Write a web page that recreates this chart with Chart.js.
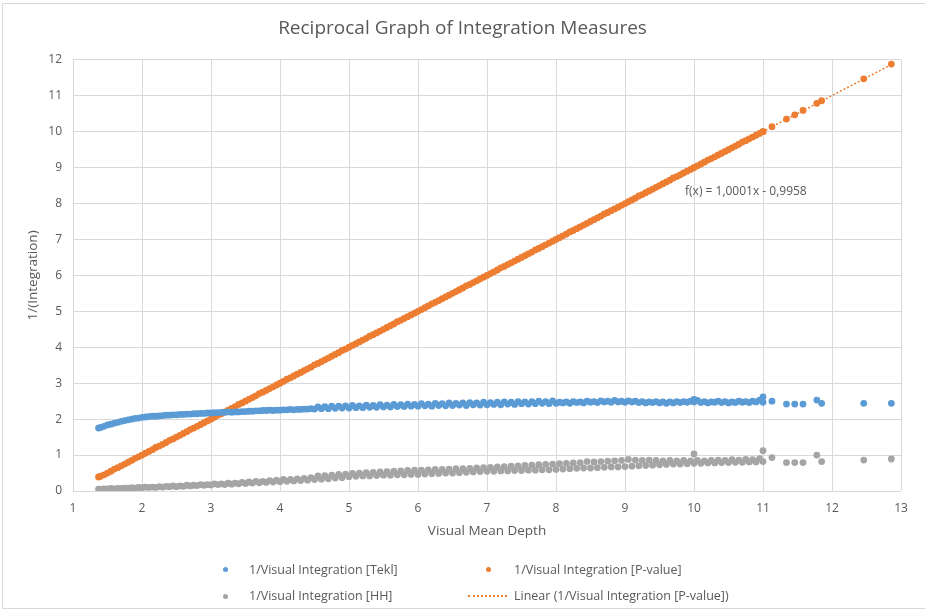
<!DOCTYPE html>
<html>
<head>
    <title>Reciprocal Graph of Integration Measures</title>
    <script src="https://cdn.jsdelivr.net/npm/chart.js"></script>
    <style>
        body {
            margin: 0;
            background: #fff;
            font-family: 'Open Sans', sans-serif;
        }
        #wrap {
            position: absolute;
            left: 0;
            top: 0;
            width: 925px;
            height: 613px;
        }
        #frame {
            position: absolute;
            left: 2px;
            top: 3px;
            width: 930px;
            height: 604px;
            border: 1px solid #d9d9d9;
        }
        .lg {
            position: absolute;
            font-size: 12.5px;
            line-height: 16px;
            color: #595959;
            white-space: nowrap;
        }
        .dot {
            position: absolute;
            width: 5px;
            height: 5px;
            border-radius: 50%;
        }
        .dash {
            position: absolute;
            width: 39px;
            height: 0;
            border-top: 2px dotted #ed7d31;
        }
    </style>
</head>
<body>
    <div id="frame"></div>
    <div id="wrap">
        <canvas id="myChart" width="925" height="613"></canvas>
    </div>
    <div class="dot" style="left:223px; top:567px; background:#5b9bd5;"></div>
    <div class="lg" style="left:249px; top:562px;">1/Visual Integration [Tekl]</div>
    <div class="dot" style="left:486px; top:567px; background:#ed7d31;"></div>
    <div class="lg" style="left:514px; top:562px;">1/Visual Integration [P-value]</div>
    <div class="dot" style="left:223px; top:594px; background:#a5a5a5;"></div>
    <div class="lg" style="left:249px; top:588px;">1/Visual Integration [HH]</div>
    <div class="dash" style="left:468px; top:595px;"></div>
    <div class="lg" style="left:514px; top:588px;">Linear (1/Visual Integration [P-value])</div>

    <script>
        // main rows: visual mean depth and the three reciprocal measures
        const depth = [1.37, 1.4, 1.5, 1.6, 1.7, 1.8, 1.9, 2.0, 2.1, 2.2, 2.3, 2.4, 2.5, 2.6, 2.7, 2.8, 2.9,
            3.0, 3.1, 3.2, 3.3, 3.4, 3.5, 3.6, 3.7, 3.8, 3.9, 4.0, 4.1, 4.2, 4.3, 4.4, 4.5, 4.6, 4.7, 4.8, 4.9,
            5.0, 5.1, 5.2, 5.3, 5.4, 5.5, 5.6, 5.7, 5.8, 5.9, 6.0, 6.1, 6.2, 6.3, 6.4, 6.5, 6.6, 6.7, 6.8, 6.9,
            7.0, 7.1, 7.2, 7.3, 7.4, 7.5, 7.6, 7.7, 7.8, 7.9, 8.0, 8.1, 8.2, 8.3, 8.4, 8.5, 8.6, 8.7, 8.8, 8.9,
            9.0, 9.1, 9.2, 9.3, 9.4, 9.5, 9.6, 9.7, 9.8, 9.9, 10.0, 10.1, 10.2, 10.3, 10.4, 10.5, 10.6, 10.7, 10.8, 10.9,
            11.0, 11.13, 11.34, 11.46, 11.58, 11.78, 11.85, 12.46, 12.86];
        const tekl = [1.75, 1.77, 1.84, 1.89, 1.94, 1.98, 2.02, 2.05, 2.07, 2.08, 2.10, 2.11, 2.12, 2.13, 2.14, 2.15, 2.16,
            2.17, 2.18, 2.19, 2.19, 2.20, 2.21, 2.22, 2.23, 2.24, 2.24, 2.25, 2.26, 2.26, 2.27, 2.28, 2.28, 2.29, 2.29, 2.30, 2.31,
            2.31, 2.32, 2.32, 2.33, 2.33, 2.34, 2.34, 2.35, 2.35, 2.36, 2.36, 2.37, 2.36, 2.38, 2.37, 2.38, 2.39, 2.38, 2.40, 2.39,
            2.40, 2.41, 2.40, 2.42, 2.41, 2.43, 2.42, 2.43, 2.44, 2.43, 2.44, 2.45, 2.44, 2.46, 2.45, 2.47, 2.46, 2.48, 2.47, 2.48,
            2.47, 2.48, 2.46, 2.45, 2.46, 2.45, 2.44, 2.45, 2.46, 2.47, 2.48, 2.46, 2.45, 2.47, 2.46, 2.45, 2.46, 2.47, 2.46, 2.48,
            2.47, 2.50, 2.42, 2.42, 2.42, 2.53, 2.44, 2.44, 2.44];
        const pValue = [0.39, 0.41, 0.50, 0.61, 0.70, 0.80, 0.91, 1.00, 1.10, 1.21, 1.30, 1.41, 1.50, 1.60, 1.71, 1.80, 1.90,
            2.00, 2.11, 2.20, 2.30, 2.41, 2.50, 2.60, 2.71, 2.80, 2.90, 3.00, 3.11, 3.20, 3.30, 3.40, 3.51, 3.60, 3.70, 3.80, 3.91,
            4.00, 4.10, 4.20, 4.31, 4.40, 4.50, 4.60, 4.71, 4.80, 4.90, 5.00, 5.10, 5.21, 5.30, 5.40, 5.50, 5.60, 5.71, 5.80, 5.90,
            6.00, 6.10, 6.21, 6.30, 6.40, 6.50, 6.60, 6.71, 6.80, 6.90, 7.00, 7.10, 7.21, 7.30, 7.40, 7.50, 7.60, 7.71, 7.80, 7.90,
            8.00, 8.10, 8.21, 8.30, 8.40, 8.50, 8.60, 8.71, 8.80, 8.90, 9.00, 9.10, 9.21, 9.30, 9.40, 9.50, 9.60, 9.71, 9.80, 9.90,
            10.00, 10.14, 10.35, 10.47, 10.59, 10.79, 10.86, 11.47, 11.88];
        const hh = [0.05, 0.05, 0.06, 0.06, 0.07, 0.08, 0.08, 0.09, 0.10, 0.10, 0.11, 0.12, 0.12, 0.13, 0.14, 0.15, 0.16,
            0.17, 0.18, 0.18, 0.19, 0.20, 0.21, 0.22, 0.23, 0.24, 0.25, 0.26, 0.27, 0.28, 0.29, 0.30, 0.32, 0.33, 0.34, 0.36, 0.37,
            0.40, 0.41, 0.42, 0.42, 0.43, 0.44, 0.44, 0.45, 0.45, 0.46, 0.46, 0.47, 0.48, 0.49, 0.50, 0.50, 0.51, 0.52, 0.53, 0.54,
            0.55, 0.55, 0.56, 0.56, 0.57, 0.57, 0.58, 0.58, 0.59, 0.59, 0.60, 0.61, 0.62, 0.63, 0.64, 0.64, 0.65, 0.66, 0.67, 0.67,
            0.68, 0.69, 0.70, 0.71, 0.72, 0.73, 0.74, 0.75, 0.75, 0.76, 0.77, 0.77, 0.78, 0.78, 0.79, 0.79, 0.80, 0.80, 0.81, 0.81,
            0.82, 0.93, 0.79, 0.79, 0.79, 1.00, 0.82, 0.86, 0.89];

        // second batch of rows in between (spread of the bands)
        const depthB = [1.45, 1.55, 1.65, 1.75, 1.85, 1.95, 2.05, 2.15, 2.25, 2.35, 2.45, 2.55, 2.65, 2.75, 2.85, 2.95,
            3.05, 3.15, 3.25, 3.35, 3.45, 3.55, 3.65, 3.75, 3.85, 3.95, 4.05, 4.15, 4.25, 4.35, 4.45, 4.55, 4.65, 4.75, 4.85, 4.95,
            5.05, 5.15, 5.25, 5.35, 5.45, 5.55, 5.65, 5.75, 5.85, 5.95, 6.05, 6.15, 6.25, 6.35, 6.45, 6.55, 6.65, 6.75, 6.85, 6.95,
            7.05, 7.15, 7.25, 7.35, 7.45, 7.55, 7.65, 7.75, 7.85, 7.95, 8.05, 8.15, 8.25, 8.35, 8.45, 8.55, 8.65, 8.75, 8.85, 8.95,
            9.05, 9.15, 9.25, 9.35, 9.45, 9.55, 9.65, 9.75, 9.85, 9.95, 10.05, 10.15, 10.25, 10.35, 10.45, 10.55, 10.65, 10.75, 10.85, 10.95,
            10.0, 11.0];
        const teklB = [1.80, 1.86, 1.91, 1.96, 2.00, 2.03, 2.06, 2.08, 2.09, 2.11, 2.12, 2.13, 2.14, 2.15, 2.16, 2.17,
            2.18, 2.19, 2.20, 2.20, 2.21, 2.22, 2.23, 2.24, 2.25, 2.25, 2.26, 2.27, 2.27, 2.28, 2.29, 2.34, 2.35, 2.36, 2.36, 2.37,
            2.38, 2.37, 2.39, 2.38, 2.40, 2.39, 2.41, 2.40, 2.42, 2.41, 2.43, 2.42, 2.44, 2.43, 2.45, 2.44, 2.45, 2.46, 2.45, 2.47,
            2.46, 2.47, 2.48, 2.47, 2.49, 2.48, 2.49, 2.50, 2.49, 2.51, 2.47, 2.48, 2.49, 2.48, 2.50, 2.49, 2.51, 2.50, 2.52, 2.50,
            2.51, 2.50, 2.49, 2.48, 2.49, 2.48, 2.48, 2.49, 2.49, 2.50, 2.52, 2.49, 2.48, 2.50, 2.49, 2.48, 2.50, 2.49, 2.50, 2.53,
            2.55, 2.62];
        const pValueB = [0.45, 0.55, 0.65, 0.75, 0.85, 0.95, 1.05, 1.15, 1.25, 1.35, 1.45, 1.55, 1.65, 1.75, 1.85, 1.95,
            2.05, 2.15, 2.25, 2.35, 2.45, 2.55, 2.65, 2.75, 2.85, 2.95, 3.05, 3.15, 3.25, 3.35, 3.45, 3.55, 3.65, 3.75, 3.85, 3.95,
            4.05, 4.15, 4.25, 4.35, 4.45, 4.55, 4.65, 4.75, 4.85, 4.95, 5.05, 5.15, 5.25, 5.35, 5.45, 5.55, 5.65, 5.75, 5.85, 5.95,
            6.05, 6.15, 6.25, 6.35, 6.45, 6.55, 6.65, 6.75, 6.85, 6.95, 7.05, 7.15, 7.25, 7.35, 7.45, 7.55, 7.65, 7.75, 7.85, 7.95,
            8.05, 8.15, 8.25, 8.35, 8.45, 8.55, 8.65, 8.75, 8.85, 8.95, 9.05, 9.15, 9.25, 9.35, 9.45, 9.55, 9.65, 9.75, 9.85, 9.95,
            9.00, 10.00];
        const hhB = [0.06, 0.07, 0.07, 0.08, 0.09, 0.10, 0.11, 0.11, 0.12, 0.13, 0.14, 0.14, 0.16, 0.16, 0.18, 0.18,
            0.20, 0.20, 0.22, 0.22, 0.24, 0.25, 0.27, 0.27, 0.29, 0.30, 0.32, 0.32, 0.34, 0.35, 0.37, 0.42, 0.43, 0.44, 0.46, 0.47,
            0.49, 0.50, 0.51, 0.52, 0.53, 0.54, 0.55, 0.56, 0.57, 0.58, 0.58, 0.59, 0.60, 0.60, 0.61, 0.62, 0.62, 0.63, 0.64, 0.65,
            0.66, 0.67, 0.68, 0.69, 0.70, 0.71, 0.72, 0.73, 0.74, 0.75, 0.76, 0.77, 0.78, 0.79, 0.82, 0.81, 0.82, 0.83, 0.84, 0.85,
            0.88, 0.86, 0.85, 0.86, 0.85, 0.84, 0.85, 0.84, 0.85, 0.84, 0.85, 0.84, 0.85, 0.86, 0.85, 0.87, 0.86, 0.88, 0.87, 0.90,
            1.03, 1.12];

        // trendline as printed on the chart
        const trendSlope = 1.0001;
        const trendIntercept = -0.9958;
        const trendLabel = 'f(x) = 1,0001x - 0,9958';

        const xTicksMin = 1, xTicksMax = 13;
        const yTicksMin = 0, yTicksMax = 12;

        function pts(xs, ys) {
            return xs.map((x, i) => ({ x: x, y: ys[i] }));
        }

        const xFirst = depth[0];
        const xLast = depth[depth.length - 1];
        const trendPts = [
            { x: xFirst, y: trendSlope * xFirst + trendIntercept },
            { x: xLast, y: trendSlope * xLast + trendIntercept }
        ];

        const grey = '#595959';
        const font = 'Open Sans';

        const trendText = {
            id: 'trendText',
            afterDatasetsDraw(chart) {
                const { ctx, scales } = chart;
                ctx.save();
                ctx.font = '12px "Open Sans", sans-serif';
                ctx.fillStyle = grey;
                ctx.textBaseline = 'middle';
                ctx.fillText(trendLabel, scales.x.getPixelForValue(9.87), scales.y.getPixelForValue(8.33));
                ctx.restore();
            }
        };

        const dotStyle = (color) => ({
            backgroundColor: color,
            borderColor: color,
            borderWidth: 0,
            pointRadius: 3.4,
            pointHoverRadius: 3.4
        });

        new Chart(document.getElementById('myChart'), {
            type: 'scatter',
            data: {
                datasets: [
                    { label: '1/Visual Integration [HH]', data: pts(depth, hh), ...dotStyle('#a5a5a5') },
                    { label: '1/Visual Integration [HH]', data: pts(depthB, hhB), ...dotStyle('#a5a5a5') },
                    { label: '1/Visual Integration [Tekl]', data: pts(depth, tekl), ...dotStyle('#5b9bd5') },
                    { label: '1/Visual Integration [Tekl]', data: pts(depthB, teklB), ...dotStyle('#5b9bd5') },
                    { label: '1/Visual Integration [P-value]', data: pts(depth, pValue), ...dotStyle('#ed7d31') },
                    { label: '1/Visual Integration [P-value]', data: pts(depthB, pValueB), ...dotStyle('#ed7d31') },
                    {
                        label: 'Linear (1/Visual Integration [P-value])',
                        type: 'line',
                        data: trendPts,
                        borderColor: '#ed7d31',
                        borderWidth: 1.5,
                        borderDash: [2, 2],
                        pointRadius: 0,
                        fill: false
                    }
                ]
            },
            options: {
                responsive: false,
                animation: false,
                layout: { padding: 0 },
                plugins: {
                    legend: { display: false },
                    tooltip: { enabled: false },
                    title: {
                        display: true,
                        text: 'Reciprocal Graph of Integration Measures',
                        color: grey,
                        font: { family: font, size: 19, weight: 'normal' },
                        padding: { top: 17, bottom: 20 }
                    }
                },
                scales: {
                    x: {
                        type: 'linear',
                        min: xTicksMin,
                        max: xTicksMax,
                        ticks: { stepSize: 1, color: grey, font: { family: font, size: 12 }, padding: 10 },
                        grid: { color: '#d9d9d9', drawTicks: false },
                        border: { display: false },
                        title: {
                            display: true,
                            text: 'Visual Mean Depth',
                            color: grey,
                            font: { family: font, size: 13.5 },
                            padding: { top: 0, bottom: 74 }
                        },
                        afterFit: (s) => { s.height = 122; }
                    },
                    y: {
                        min: yTicksMin,
                        max: yTicksMax,
                        ticks: { stepSize: 1, color: grey, font: { family: font, size: 12 }, padding: 11 },
                        grid: { color: '#d9d9d9', drawTicks: false },
                        border: { display: false },
                        title: {
                            display: true,
                            text: '1/(Integration)',
                            color: grey,
                            font: { family: font, size: 13.5 },
                            padding: { top: 25, bottom: 0 }
                        },
                        afterFit: (s) => { s.width = 73; }
                    },
                    // empty strip on the right so the plot ends at 13 like the original
                    yRight: {
                        position: 'right',
                        display: true,
                        ticks: { display: false },
                        grid: { display: false },
                        border: { display: false },
                        afterFit: (s) => { s.width = 24; }
                    }
                }
            },
            plugins: [trendText]
        });
    </script>
</body>
</html>
